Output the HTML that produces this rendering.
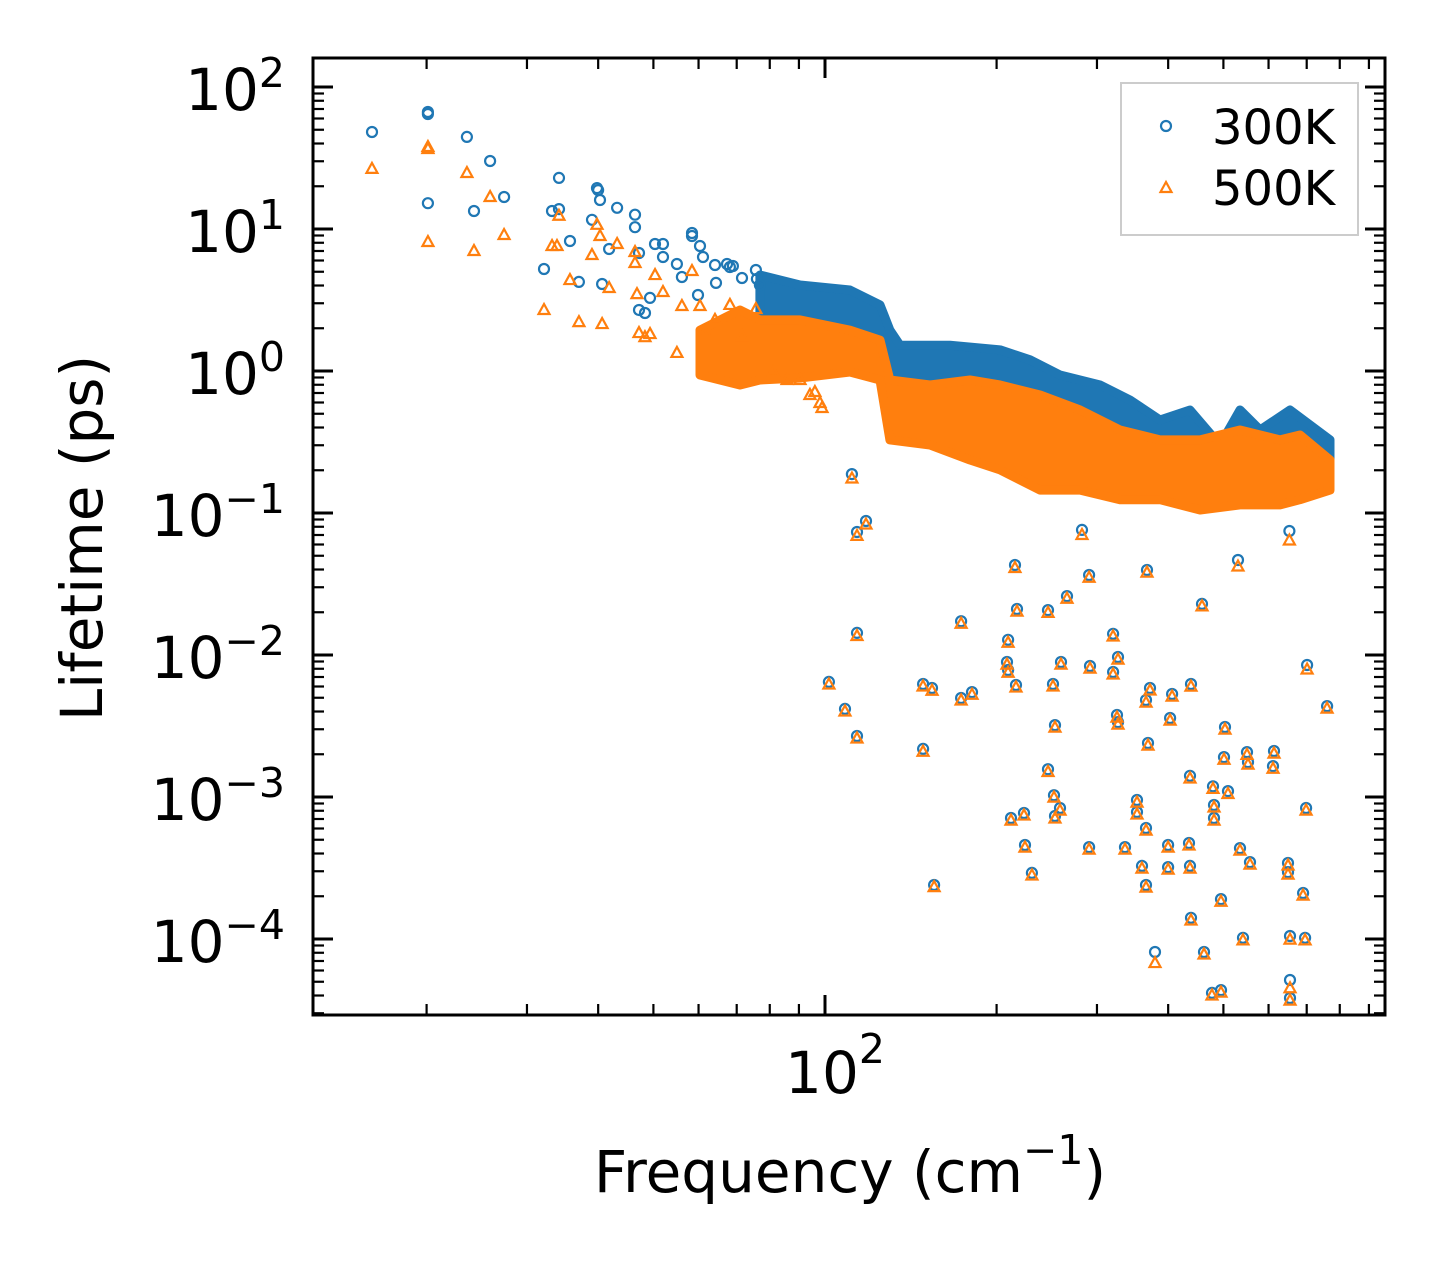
<!DOCTYPE html>
<html><head><meta charset="utf-8"><style>
html,body{margin:0;padding:0;background:#fff;}
svg{display:block;font-family:"DejaVu Sans","Liberation Sans",sans-serif;}
</style></head><body>
<svg id="chart" width="1443" height="1265" viewBox="0 0 1443 1265" xmlns="http://www.w3.org/2000/svg">
<rect width="1443" height="1265" fill="#fff"/>
<g id="bands"></g>
<g id="marks"></g>
<g id="axes"></g>
</svg>
<script>
// ---- data ----
const freqLow300 = [16.04,20.11,20.11,20.11,23.54,24.22,25.85,27.35,32.14,33.20,34.14,34.14,35.69,37.01,39.01,39.81,39.98,40.30,40.64,41.81,43.18,46.42,46.42,47.17,47.17,48.32,49.32,50.33,51.97,51.97,54.98,56.10,58.43,58.43,60.35,61.09,59.86,64.12,64.38,67.30,68.11,68.94,71.50,75.65,75.96,76.89];
const lifeLow300 = [48.2,66.7,64.5,15.2,44.5,13.4,30.1,16.8,5.23,13.4,22.9,13.8,8.23,4.24,11.6,19.4,18.8,16.0,4.10,7.23,14.1,12.6,10.3,6.78,2.69,2.56,3.27,7.84,6.35,7.84,5.67,4.59,9.37,8.93,7.59,6.35,3.43,5.58,4.17,5.67,5.40,5.49,4.52,5.14,4.45,4.03];
const freqLow500 = [16.04,20.11,20.11,20.11,23.54,24.22,25.85,27.35,32.14,33.20,33.87,34.14,35.69,37.01,39.01,39.81,40.30,40.64,41.81,43.18,46.42,46.42,46.79,47.17,48.32,49.32,50.33,51.97,54.98,56.10,58.43,60.35,61.59,64.12,68.11,71.50,75.65,90.4,94.1,96.0,98.0,98.8,85.8,81.1];
const lifeLow500 = [26.5,37.8,36.6,8.10,24.8,7.00,16.8,9.07,2.69,7.59,7.59,12.4,4.37,2.21,6.56,10.7,8.93,2.14,3.84,7.84,6.89,5.76,3.48,1.85,1.73,1.82,4.74,3.60,1.34,2.87,5.06,2.87,1.88,2.29,2.92,1.76,2.73,0.864,0.678,0.711,0.595,0.549,0.864,0.984];
// dense band envelopes (min/max lifetime at sampled frequencies)
const bandFreq300 = [76.89,90.4,110.6,124.9,130.0,135.4,165.7,202.8,228.9,258.4,303.8,342.8,387.0,436.9,493.2,534.6,579.8,654.4,769.2];
const bandTop300 = [4.74,4.03,3.72,2.92,1.94,1.52,1.52,1.41,1.20,0.937,0.797,0.625,0.452,0.531,0.301,0.531,0.384,0.531,0.327];
const bandBot300 = [1.79,1.41,1.52,1.20,0.625,0.452,0.452,0.384,0.327,0.278,0.236,0.201,0.171,0.201,0.171,0.171,0.171,0.201,0.236];
const bandFreq500 = [60.35,70.93,76.89,90.4,110.6,124.9,130.0,152.9,179.6,202.8,238.4,280.2,329.3,387.0,455.0,534.6,628.4,681.3,769.2];
const bandTop500 = [1.94,2.69,2.29,2.29,1.94,1.65,0.864,0.797,0.864,0.797,0.678,0.531,0.384,0.327,0.327,0.384,0.327,0.354,0.236];
const bandBot500 = [0.937,0.797,0.864,0.893,0.984,0.864,0.327,0.301,0.236,0.201,0.145,0.145,0.124,0.124,0.105,0.114,0.114,0.124,0.145];
// outlier modes (both temperatures)
const freqOut = [111.5,113.8,118.0,113.8,101.6,108.4,113.8,148.6,154.1,148.6,155.4,173.3,181.1,173.3,209.5,208.6,209.5,216.3,215.4,217.2,246.2,251.2,253.2,259.4,212.0,223.4,224.3,230.7,246.2,252.2,258.4,253.2,265.8,290.6,291.7,282.4,290.6,320.2,320.2,326.6,325.3,326.6,336.0,352.7,352.7,367.2,365.8,371.7,368.7,365.8,359.8,365.8,379.3,399.9,399.9,403.1,406.4,436.9,435.1,436.9,438.6,438.6,458.6,462.3,479.4,481.4,481.4,477.4,495.1,503.2,501.2,495.1,509.3,530.3,534.6,541.1,550.0,552.2,556.7,613.4,611.0,649.1,649.1,654.4,654.4,654.4,652.7,689.8,695.4,698.2,701.1,760.0];
const lifeOut300 = [0.188,0.0735,0.0879,0.0143,0.00646,0.00417,0.00269,0.00625,0.00586,0.00218,0.000240,0.0173,0.00548,0.00498,0.0128,0.00893,0.00784,0.00615,0.0430,0.0211,0.0207,0.00625,0.00321,0.00893,0.000711,0.000771,0.000459,0.000292,0.00157,0.00103,0.000837,0.000735,0.0260,0.000444,0.00837,0.0760,0.0366,0.0141,0.00759,0.00968,0.00378,0.00337,0.000444,0.000953,0.000784,0.0397,0.00482,0.00586,0.00240,0.000605,0.000327,0.000240,0.0000810,0.000459,0.000321,0.00360,0.00531,0.00141,0.000474,0.000327,0.00625,0.000141,0.0229,0.0000810,0.00119,0.000879,0.000711,0.0000417,0.0000437,0.00311,0.00191,0.000191,0.00110,0.0467,0.000437,0.000102,0.00207,0.00176,0.000348,0.00211,0.00165,0.000343,0.000296,0.000105,0.0000384,0.0000514,0.0747,0.000211,0.000102,0.000837,0.00851,0.00437];
const lifeOut500 = [0.175,0.0690,0.0830,0.0136,0.00620,0.00400,0.00258,0.00600,0.00560,0.00208,0.000232,0.0166,0.00525,0.00478,0.0122,0.00855,0.00750,0.00590,0.0410,0.0202,0.0198,0.00600,0.00308,0.00855,0.000682,0.000740,0.000440,0.000280,0.00150,0.000990,0.000802,0.000705,0.0249,0.000426,0.00802,0.0700,0.0350,0.0135,0.00728,0.00928,0.00362,0.00323,0.000426,0.000913,0.000752,0.0380,0.00462,0.00562,0.00230,0.000580,0.000313,0.000230,0.0000677,0.000440,0.000308,0.00345,0.00509,0.00135,0.000455,0.000313,0.00599,0.000135,0.0220,0.0000777,0.00114,0.000843,0.000682,0.0000400,0.0000419,0.00298,0.00183,0.000183,0.00105,0.0420,0.000419,0.0000978,0.00198,0.00169,0.000334,0.00202,0.00158,0.000329,0.000284,0.0000990,0.0000368,0.0000450,0.0640,0.000202,0.0000978,0.000802,0.00790,0.00419];
const yTickExp = [2,1,0,-1,-2,-3,-4];
const xTickExp = [2];

// ---- scales ----
const X0=825, XDEC=570, Y0=371, YDEC=142;
const PL=313, PR=1385, PT=58, PB=1015;
function sx(f){return X0+(Math.log10(f)-2)*XDEC;}
function sy(v){return Y0-Math.log10(v)*YDEC;}
const NS="http://www.w3.org/2000/svg";
function mk(tag,attrs,parent){const e=document.createElementNS(NS,tag);for(const k in attrs)e.setAttribute(k,attrs[k]);parent.appendChild(e);return e;}
const bands=document.getElementById('bands'), marks=document.getElementById('marks'), axes=document.getElementById('axes');
const BLUE="#1f77b4", ORANGE="#ff7f0e";

function band(fr,top,bot,color,name){
  let d="M"+fr.map((f,i)=>sx(f).toFixed(1)+","+sy(top[i]).toFixed(1)).join("L");
  for(let i=fr.length-1;i>=0;i--) d+="L"+sx(fr[i]).toFixed(1)+","+sy(bot[i]).toFixed(1);
  d+="Z";
  const p=mk('path',{d:d,fill:color,stroke:color,'stroke-width':9,'stroke-linejoin':'round'},bands);
  
  
}
function circ(f,v,name){
  const c=mk('circle',{cx:sx(f).toFixed(1),cy:sy(v).toFixed(1),r:5,fill:'none',stroke:BLUE,'stroke-width':2.2},marks);
  
  
}
function tri(f,v,name){
  const x=sx(f),y=sy(v);
  const t=mk('polygon',{points:`${x},${y-6} ${x-5.5},${y+4} ${x+5.5},${y+4}`,fill:'none',stroke:ORANGE,'stroke-width':2.2,'stroke-linejoin':'miter'},marks);
  
  
}
band(bandFreq300,bandTop300,bandBot300,BLUE,'band-300k');
band(bandFreq500,bandTop500,bandBot500,ORANGE,'band-500k');
freqLow300.forEach((f,i)=>circ(f,lifeLow300[i],'point-300k'));
freqOut.forEach((f,i)=>circ(f,lifeOut300[i],'point-300k'));
freqLow500.forEach((f,i)=>tri(f,lifeLow500[i],'point-500k'));
freqOut.forEach((f,i)=>tri(f,lifeOut500[i],'point-500k'));

// ---- axes ----
const frame=mk('rect',{x:PL,y:PT,width:PR-PL,height:PB-PT,fill:'none',stroke:'#000','stroke-width':3},axes);


for(let e=-5;e<=2;e++){
  for(let m=1;m<10;m++){
    const v=m*Math.pow(10,e); const y=sy(v);
    if(y<PT||y>PB) continue;
    const L=m===1?20:11;
    mk('line',{x1:PL,x2:PL+L,y1:y,y2:y,stroke:'#000','stroke-width':m===1?3:2.2},axes);
    mk('line',{x1:PR,x2:PR-L,y1:y,y2:y,stroke:'#000','stroke-width':m===1?3:2.2},axes);
  }
}
yTickExp.forEach(e=>{
  const y=sy(Math.pow(10,e));
  const t=mk('text',{x:285,y:y+23,'font-size':58,'text-anchor':'end',fill:'#000'},axes);
  
  
  t.innerHTML='10<tspan dy="-23" font-size="41">'+(e<0?'\u2212'+(-e):String(e))+'</tspan>';
});
for(let e=1;e<=2;e++){
  for(let m=1;m<10;m++){
    const f=m*Math.pow(10,e); const x=sx(f);
    if(x<PL||x>PR) continue;
    const L=m===1?20:11;
    mk('line',{x1:x,x2:x,y1:PB,y2:PB-L,stroke:'#000','stroke-width':m===1?3:2.2},axes);
    mk('line',{x1:x,x2:x,y1:PT,y2:PT+L,stroke:'#000','stroke-width':m===1?3:2.2},axes);
  }
}
xTickExp.forEach(e=>{
  const x=sx(Math.pow(10,e));
  const t=mk('text',{x:x+10,y:1093,'font-size':58,'text-anchor':'middle',fill:'#000'},axes);
  
  
  t.innerHTML='10<tspan dy="-30" font-size="41">'+e+'</tspan>';
});
</script>
<svg style="position:absolute;left:0;top:0" width="1443" height="1265" xmlns="http://www.w3.org/2000/svg" font-family="DejaVu Sans, Liberation Sans, sans-serif">
<text x="850" y="1192" font-size="58" text-anchor="middle">Frequency (cm<tspan dy="-28" font-size="41">−1</tspan><tspan dy="28">)</tspan></text>
<text transform="translate(102,538) rotate(-90)" font-size="58" text-anchor="middle">Lifetime (ps)</text>
<g>
<rect x="1121" y="83" width="237" height="152" fill="#fff" stroke="#ccc" stroke-width="2"/>
<circle cx="1166" cy="126" r="5" fill="none" stroke="#1f77b4" stroke-width="2.2"/>
<text x="1212" y="144" font-size="48">300K</text>
<polygon points="1166,182 1160.5,192 1171.5,192" fill="none" stroke="#ff7f0e" stroke-width="2.2"/>
<text x="1212" y="205" font-size="48">500K</text>
</g>
</svg>
</body></html>
